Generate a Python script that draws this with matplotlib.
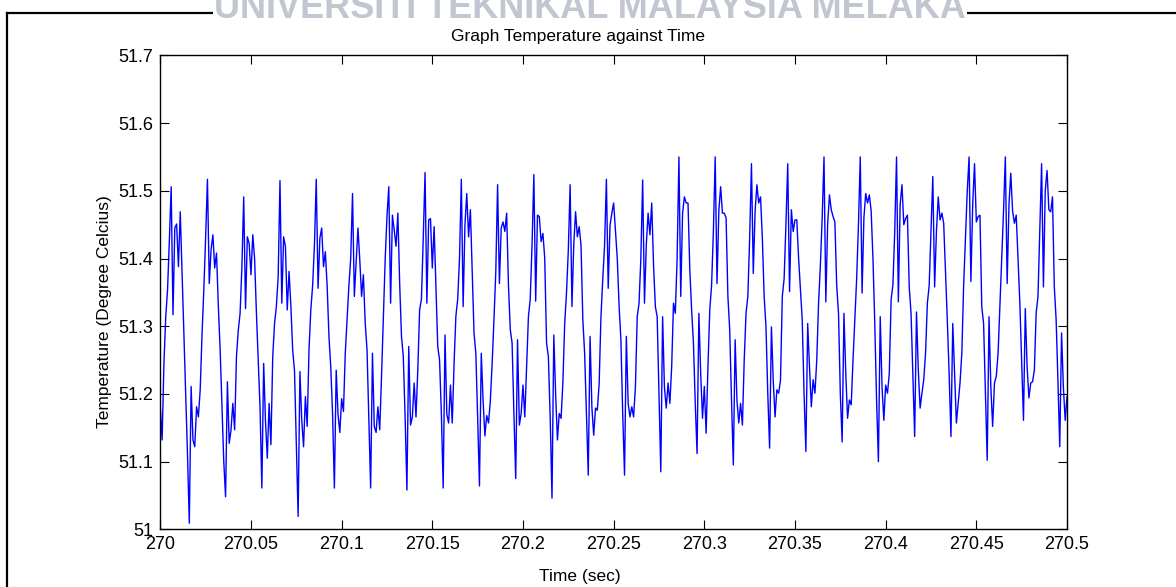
import numpy as np
import matplotlib
matplotlib.use("Agg")
import matplotlib.pyplot as plt
from matplotlib.lines import Line2D

# ---- data ----
t_start = 270.0
t_step = 0.001          # 1 kHz sampling
lead = [51.181, 51.132, 51.245, 51.314, 51.354, 51.427]
c00 = [51.506, 51.317, 51.445, 51.451, 51.388, 51.469, 51.38, 51.29, 51.20, 51.11, 51.009, 51.211, 51.132, 51.122, 51.181, 51.166, 51.206, 51.287, 51.354, 51.432]
c01 = [51.517, 51.363, 51.413, 51.435, 51.386, 51.408, 51.33, 51.265, 51.18, 51.10, 51.048, 51.218, 51.127, 51.147, 51.186, 51.147, 51.255, 51.294, 51.319, 51.388]
c02 = [51.491, 51.326, 51.432, 51.422, 51.376, 51.435, 51.40, 51.32, 51.25, 51.18, 51.061, 51.245, 51.16, 51.105, 51.186, 51.125, 51.255, 51.304, 51.329, 51.373]
c03 = [51.515, 51.334, 51.432, 51.418, 51.324, 51.381, 51.33, 51.265, 51.235, 51.127, 51.019, 51.233, 51.161, 51.122, 51.196, 51.152, 51.265, 51.324, 51.36, 51.42]
c04 = [51.517, 51.356, 51.43, 51.445, 51.388, 51.410, 51.36, 51.285, 51.24, 51.17, 51.061, 51.235, 51.17, 51.143, 51.193, 51.174, 51.26, 51.31, 51.36, 51.40]
c05 = [51.496, 51.344, 51.393, 51.445, 51.398, 51.344, 51.376, 51.304, 51.265, 51.166, 51.061, 51.260, 51.152, 51.143, 51.181, 51.147, 51.226, 51.314, 51.398, 51.462]
c06 = [51.506, 51.334, 51.464, 51.442, 51.418, 51.467, 51.363, 51.285, 51.255, 51.166, 51.058, 51.270, 51.154, 51.166, 51.216, 51.166, 51.236, 51.324, 51.34, 51.43]
c07 = [51.527, 51.334, 51.457, 51.459, 51.386, 51.447, 51.36, 51.27, 51.25, 51.17, 51.061, 51.287, 51.17, 51.157, 51.213, 51.157, 51.245, 51.315, 51.34, 51.40]
c08 = [51.517, 51.329, 51.45, 51.496, 51.432, 51.472, 51.383, 51.29, 51.26, 51.166, 51.064, 51.260, 51.19, 51.138, 51.168, 51.157, 51.19, 51.245, 51.31, 51.38]
c09 = [51.509, 51.363, 51.445, 51.454, 51.440, 51.467, 51.36, 51.295, 51.275, 51.17, 51.075, 51.280, 51.154, 51.171, 51.213, 51.166, 51.24, 51.314, 51.34, 51.42]
c10 = [51.524, 51.337, 51.464, 51.462, 51.425, 51.437, 51.40, 51.275, 51.255, 51.166, 51.046, 51.287, 51.20, 51.132, 51.171, 51.164, 51.216, 51.304, 51.349, 51.412]
c11 = [51.509, 51.329, 51.42, 51.469, 51.432, 51.447, 51.42, 51.31, 51.26, 51.17, 51.080, 51.285, 51.18, 51.139, 51.179, 51.176, 51.215, 51.314, 51.37, 51.42]
c12 = [51.517, 51.356, 51.449, 51.467, 51.482, 51.44, 51.40, 51.33, 51.28, 51.17, 51.080, 51.285, 51.186, 51.166, 51.181, 51.166, 51.21, 51.314, 51.334, 51.40]
c13 = [51.516, 51.334, 51.42, 51.467, 51.435, 51.482, 51.39, 51.329, 51.314, 51.20, 51.085, 51.314, 51.21, 51.179, 51.216, 51.186, 51.24, 51.334, 51.319, 51.40]
c14 = [51.55, 51.344, 51.467, 51.491, 51.482, 51.482, 51.383, 51.324, 51.275, 51.186, 51.112, 51.319, 51.23, 51.164, 51.211, 51.142, 51.24, 51.324, 51.36, 51.44]
c15 = [51.55, 51.363, 51.47, 51.506, 51.467, 51.467, 51.46, 51.344, 51.295, 51.19, 51.095, 51.280, 51.19, 51.157, 51.186, 51.154, 51.25, 51.319, 51.344, 51.43]
c16 = [51.54, 51.378, 51.47, 51.509, 51.482, 51.491, 51.43, 51.344, 51.299, 51.20, 51.120, 51.299, 51.22, 51.166, 51.206, 51.201, 51.22, 51.344, 51.37, 51.45]
c17 = [51.54, 51.351, 51.472, 51.440, 51.457, 51.457, 51.40, 51.354, 51.309, 51.20, 51.115, 51.304, 51.24, 51.181, 51.221, 51.201, 51.25, 51.334, 51.39, 51.46]
c18 = [51.55, 51.336, 51.45, 51.494, 51.472, 51.462, 51.454, 51.36, 51.319, 51.20, 51.129, 51.319, 51.23, 51.164, 51.191, 51.184, 51.25, 51.309, 51.37, 51.45]
c19 = [51.55, 51.349, 51.46, 51.496, 51.482, 51.494, 51.47, 51.40, 51.304, 51.19, 51.100, 51.314, 51.21, 51.161, 51.213, 51.201, 51.23, 51.339, 51.361, 51.44]
c20 = [51.55, 51.336, 51.48, 51.509, 51.450, 51.459, 51.464, 51.358, 51.319, 51.23, 51.137, 51.321, 51.235, 51.179, 51.201, 51.221, 51.26, 51.334, 51.36, 51.44]
c21 = [51.521, 51.358, 51.44, 51.491, 51.457, 51.467, 51.452, 51.38, 51.309, 51.23, 51.137, 51.304, 51.23, 51.157, 51.186, 51.216, 51.26, 51.36, 51.43, 51.50]
c22 = [51.55, 51.366, 51.48, 51.54, 51.454, 51.462, 51.464, 51.329, 51.304, 51.20, 51.102, 51.314, 51.21, 51.152, 51.216, 51.226, 51.26, 51.33, 51.40, 51.47]
c23 = [51.55, 51.363, 51.48, 51.526, 51.47, 51.452, 51.464, 51.40, 51.334, 51.25, 51.161, 51.326, 51.24, 51.194, 51.216, 51.218, 51.235, 51.32, 51.344, 51.44]
c24 = [51.54, 51.358, 51.50, 51.53, 51.472, 51.469, 51.491, 51.358, 51.31, 51.22, 51.122, 51.290, 51.21, 51.161, 51.196]

cycles = [c00, c01, c02, c03, c04, c05, c06, c07, c08, c09, c10, c11, c12,
          c13, c14, c15, c16, c17, c18, c19, c20, c21, c22, c23, c24]
temperature = np.array(lead + [v for c in cycles for v in c])
time = t_start + t_step * np.arange(len(temperature))

xticks = [270, 270.05, 270.1, 270.15, 270.2, 270.25, 270.3, 270.35, 270.4, 270.45, 270.5]
xticklabels = ["270", "270.05", "270.1", "270.15", "270.2", "270.25", "270.3",
               "270.35", "270.4", "270.45", "270.5"]
yticks = [51, 51.1, 51.2, 51.3, 51.4, 51.5, 51.6, 51.7]
yticklabels = ["51", "51.1", "51.2", "51.3", "51.4", "51.5", "51.6", "51.7"]

title = "Graph Temperature against Time"
xlabel = "Time (sec)"
ylabel = "Temperature (Degree Celcius)"
watermark = "UNIVERSITI TEKNIKAL MALAYSIA MELAKA"

# ---- figure ----
plt.rcParams['font.family'] = ['Liberation Sans', 'DejaVu Sans']
W, H = 1176, 587
fig = plt.figure(figsize=(W / 100, H / 100), dpi=100)
fig.patch.set_facecolor('white')

ax_l, ax_r, ax_t, ax_b = 160.3, 1067.0, 55.4, 529.3
ax = fig.add_axes([ax_l / W, 1 - ax_b / H, (ax_r - ax_l) / W, (ax_b - ax_t) / H])
ax.plot(time, temperature, color='#0000ff', lw=1.0)
ax.set_xlim(270, 270.5)
ax.set_ylim(51, 51.7)
ax.set_xticks(xticks)
ax.set_xticklabels(xticklabels)
ax.set_yticks(yticks)
ax.set_yticklabels(yticklabels)
ax.tick_params(direction='in', length=6.5, width=0.8, top=True, right=True,
               labelsize=13, pad=5, colors='black')
for s in ax.spines.values():
    s.set_linewidth(1.0)
    s.set_color('black')

# title / axis labels placed where the reference shows them
fig.text(578 / W, 1 - 36 / H, title, ha='center', va='center', fontsize=12.5)
fig.text(580 / W, 1 - 577 / H, xlabel, ha='center', va='center', fontsize=12.5)
fig.text(105 / W, 1 - 312 / H, ylabel, ha='center', va='center', fontsize=12.5,
         rotation=90)

# page frame lines
fx = 6.5 / W
fy = 1 - 12.5 / H
fig.add_artist(Line2D([fx, fx], [0, fy], transform=fig.transFigure, color='black', lw=1.6))
fig.add_artist(Line2D([fx, 1.0], [fy, fy], transform=fig.transFigure, color='black', lw=1.6))

# watermark (its top is cut by the picture edge, as in the reference)
fig.text(590 / W, 1 - 18 / H, watermark, ha='center', va='baseline', fontsize=26,
         fontweight='bold', color='#c2c6d0', zorder=10,
         bbox=dict(facecolor='white', edgecolor='none', pad=1))

fig.savefig('out.png', dpi=100, facecolor='white')
